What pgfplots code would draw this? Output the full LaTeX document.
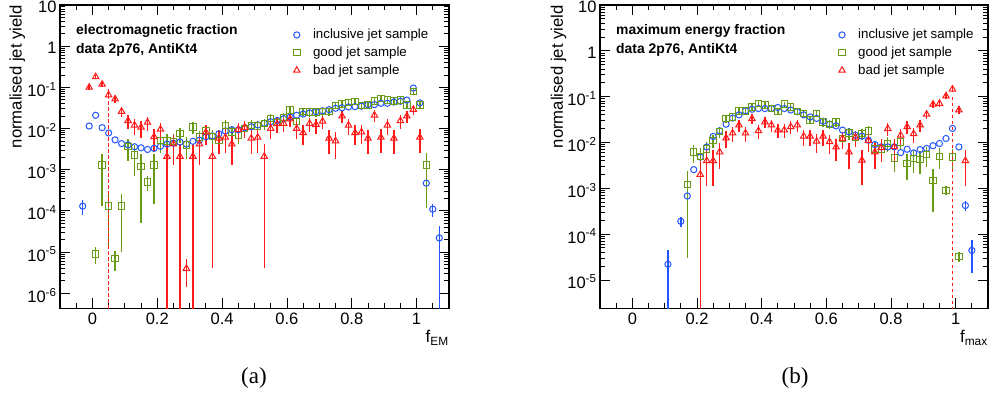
\documentclass[border=0pt]{standalone}
\usepackage{fontspec}
\setmainfont{Liberation Sans}
\newfontfamily\capfont{Liberation Serif}
\usepackage{pgfplots}
\pgfplotsset{compat=1.18}
\usepackage{pgfplotstable}

\definecolor{cblue}{RGB}{35,85,255}
\definecolor{cgreen}{RGB}{105,155,20}
\definecolor{cred}{RGB}{255,25,25}

% ---------------- left panel: electromagnetic fraction ----------------
\pgfplotstableread{
x y ep em
-0.03 1.3e-4 5e-5 5e-5
-0.01 0.0115 0 0
0.01 0.021 0 0
0.03 0.0105 0 0
0.05 0.0078 0 0
0.07 0.0053 0 0
0.09 0.0043 0 0
0.11 0.0040 0 0
0.13 0.0036 0 0
0.15 0.0034 0 0
0.17 0.0031 0 0
0.19 0.0033 0 0
0.21 0.0037 0 0
0.23 0.0042 0 0
0.25 0.0044 0 0
0.27 0.0047 0 0
0.29 0.0042 0 0
0.31 0.0049 0 0
0.33 0.0052 0 0
0.35 0.0063 0 0
0.37 0.0066 0 0
0.39 0.0074 0 0
0.41 0.0087 0 0
0.43 0.0094 0 0
0.45 0.0093 0 0
0.47 0.0105 0 0
0.49 0.011 0 0
0.51 0.0122 0 0
0.53 0.0134 0 0
0.55 0.0146 0 0
0.57 0.0158 0 0
0.59 0.0173 0 0
0.61 0.019 0 0
0.63 0.021 0 0
0.65 0.0225 0 0
0.67 0.024 0 0
0.69 0.0256 0 0
0.71 0.027 0 0
0.73 0.0287 0 0
0.75 0.031 0 0
0.77 0.032 0 0
0.79 0.0334 0 0
0.81 0.034 0 0
0.83 0.035 0 0
0.85 0.038 0 0
0.87 0.038 0 0
0.89 0.041 0 0
0.91 0.041 0 0
0.93 0.044 0 0
0.95 0.046 0 0
0.97 0.049 0 0
0.99 0.096 0 0
1.01 0.042 0 0
1.03 4.7e-4 8e-5 8e-5
1.05 1.1e-4 4e-5 4e-5
1.07 2.2e-5 2.1e-5 2.1998e-5
}\emincl

\pgfplotstableread{
x y ep em
0.01 9e-6 4e-6 4e-6
0.03 1.3e-3 1.17e-3 1.17e-3
0.05 1.3e-4 1.15e-4 1.15e-4
0.07 7e-6 3.5e-6 3.5e-6
0.09 1.3e-4 1.2e-4 1.2e-4
0.11 3.6e-3 2e-3 2e-3
0.13 2.3e-3 1.6e-3 1.6e-3
0.15 1.2e-3 1.15e-3 1.15e-3
0.17 5e-4 2e-4 2e-4
0.19 1.3e-3 1.15e-3 1.15e-3
0.21 5.1e-3 2.5e-3 2.5e-3
0.23 5e-3 2.4e-3 2.4e-3
0.25 4.8e-3 2.4e-3 2.4e-3
0.27 7.5e-3 3e-3 3e-3
0.29 4e-3 2.2e-3 2.2e-3
0.31 0.011 3.6e-3 3.6e-3
0.33 6.2e-3 2.7e-3 2.7e-3
0.35 8.9e-3 3.3e-3 3.3e-3
0.37 6.3e-3 2.75e-3 2.75e-3
0.39 5.2e-3 2.5e-3 2.5e-3
0.41 0.012 3.8e-3 3.8e-3
0.43 8.2e-3 3.1e-3 3.1e-3
0.45 7e-3 2.9e-3 2.9e-3
0.47 0.0101 3.5e-3 3.5e-3
0.49 0.012 3.8e-3 3.8e-3
0.51 0.0115 3.7e-3 3.7e-3
0.53 0.0133 4e-3 4e-3
0.55 0.0177 4.6e-3 4.6e-3
0.57 0.0138 4.1e-3 4.1e-3
0.59 0.0186 4.7e-3 4.7e-3
0.61 0.028 5.8e-3 5.8e-3
0.63 0.0146 4.2e-3 4.2e-3
0.65 0.026 5.6e-3 5.6e-3
0.67 0.025 5.5e-3 5.5e-3
0.69 0.025 5.5e-3 5.5e-3
0.71 0.026 5.6e-3 5.6e-3
0.73 0.026 5.6e-3 5.6e-3
0.75 0.036 6.6e-3 6.6e-3
0.77 0.039 6.8e-3 6.8e-3
0.79 0.043 7.2e-3 7.2e-3
0.81 0.045 7.3e-3 7.3e-3
0.83 0.036 6.6e-3 6.6e-3
0.85 0.037 6.7e-3 6.7e-3
0.87 0.047 7.5e-3 7.5e-3
0.89 0.054 8e-3 8e-3
0.91 0.049 7.7e-3 7.7e-3
0.93 0.047 7.5e-3 7.5e-3
0.95 0.049 7.7e-3 7.7e-3
0.97 0.037 6.7e-3 6.7e-3
0.99 0.080 9.8e-3 9.8e-3
1.01 0.037 6.7e-3 6.7e-3
1.03 1.3e-3 1.18e-3 1.18e-3
}\emgood

\pgfplotstableread{
x y ep em
-0.01 0.10 0.0143 0.0143
0.01 0.18 0.0192 0.0192
0.03 0.118 0.0156 0.0156
0.05 0.065 0.0115 0.0115
0.07 0.052 0.0103 0.0103
0.09 0.026 7.3e-3 7.3e-3
0.11 0.0155 5.6e-3 5.6e-3
0.13 0.012 5e-3 5e-3
0.15 0.0107 4.7e-3 4.7e-3
0.17 0.0141 5.4e-3 5.4e-3
0.19 0.0063 3.6e-3 3.6e-3
0.21 0.0096 4.4e-3 4.4e-3
0.23 0.0021 0.0021 0.0020998
0.25 0.0042 2.9e-3 2.9e-3
0.27 0.0021 0.0021 0.0020998
0.29 4e-6 2.6e-6 2.6e-6
0.31 0.0021 0.0021 0.0020998
0.33 0.0042 2.9e-3 2.9e-3
0.35 0.0081 4.1e-3 4.1e-3
0.37 0.0021 0.0021 0.002096
0.39 0.0058 3.45e-3 3.45e-3
0.41 0.0061 3.5e-3 3.5e-3
0.43 0.0042 2.9e-3 2.9e-3
0.45 0.0095 4.4e-3 4.4e-3
0.47 0.0106 4.7e-3 4.7e-3
0.49 0.0058 3.45e-3 3.45e-3
0.51 0.0061 3.5e-3 3.5e-3
0.53 0.0021 0.0021 0.002096
0.55 0.010 4.5e-3 4.5e-3
0.57 0.013 5.2e-3 5.2e-3
0.59 0.0133 5.2e-3 5.2e-3
0.61 0.017 5.9e-3 5.9e-3
0.63 0.010 4.5e-3 4.5e-3
0.65 0.0079 4e-3 4e-3
0.67 0.0133 5.2e-3 5.2e-3
0.69 0.0125 5e-3 5e-3
0.71 0.015 5.5e-3 5.5e-3
0.73 0.0058 3.45e-3 3.45e-3
0.75 0.005 3.2e-3 3.2e-3
0.77 0.020 6.4e-3 6.4e-3
0.79 0.012 5e-3 5e-3
0.81 0.0079 4e-3 4e-3
0.83 0.0082 4.1e-3 4.1e-3
0.85 0.0058 3.45e-3 3.45e-3
0.87 0.021 6.6e-3 6.6e-3
0.89 0.0061 3.5e-3 3.5e-3
0.91 0.012 5e-3 5e-3
0.93 0.0058 3.45e-3 3.45e-3
0.95 0.0155 5.6e-3 5.6e-3
0.97 0.020 6.4e-3 6.4e-3
0.99 0.029 7.7e-3 7.7e-3
1.01 0.0061 3.5e-3 3.5e-3
}\embad

% ---------------- right panel: maximum energy fraction ----------------
\pgfplotstableread{
x y ep em
0.11 2.2e-5 2.2e-5 2.1998e-5
0.15 1.9e-4 5e-5 5e-5
0.17 6.8e-4 1e-4 1e-4
0.19 2.55e-3 0 0
0.21 4.8e-3 0 0
0.23 8e-3 0 0
0.25 0.0135 0 0
0.27 0.018 0 0
0.29 0.025 0 0
0.31 0.034 0 0
0.33 0.040 0 0
0.35 0.049 0 0
0.37 0.053 0 0
0.39 0.055 0 0
0.41 0.055 0 0
0.43 0.055 0 0
0.45 0.058 0 0
0.47 0.055 0 0
0.49 0.051 0 0
0.51 0.047 0 0
0.53 0.040 0 0
0.55 0.036 0 0
0.57 0.0335 0 0
0.59 0.029 0 0
0.61 0.025 0 0
0.63 0.023 0 0
0.65 0.0186 0 0
0.67 0.017 0 0
0.69 0.0144 0 0
0.71 0.0137 0 0
0.73 0.0112 0 0
0.75 9e-3 0 0
0.77 8e-3 0 0
0.79 8e-3 0 0
0.81 8e-3 0 0
0.83 6e-3 0 0
0.85 7.1e-3 0 0
0.87 5.9e-3 0 0
0.89 7e-3 0 0
0.91 7.4e-3 0 0
0.93 8.5e-3 0 0
0.95 9.5e-3 0 0
0.97 0.0122 0 0
0.99 0.0203 0 0
1.01 8e-3 0 0
1.03 4.2e-4 1e-4 1e-4
1.05 4.4e-5 3e-5 3e-5
}\mxincl

\pgfplotstableread{
x y ep em
0.17 1.2e-3 1.17e-3 1.17e-3
0.19 6.2e-3 2.7e-3 2.7e-3
0.21 5e-3 2.4e-3 2.4e-3
0.23 7.2e-3 2.9e-3 2.9e-3
0.25 0.0112 3.7e-3 3.7e-3
0.27 0.0173 4.6e-3 4.6e-3
0.29 0.033 6.3e-3 6.3e-3
0.31 0.036 6.6e-3 6.6e-3
0.33 0.049 7.7e-3 7.7e-3
0.35 0.049 7.7e-3 7.7e-3
0.37 0.060 8.5e-3 8.5e-3
0.39 0.071 9.2e-3 9.2e-3
0.41 0.066 8.9e-3 8.9e-3
0.43 0.055 8.1e-3 8.1e-3
0.45 0.047 7.5e-3 7.5e-3
0.47 0.069 9.1e-3 9.1e-3
0.49 0.059 8.4e-3 8.4e-3
0.51 0.047 7.5e-3 7.5e-3
0.53 0.043 7.2e-3 7.2e-3
0.55 0.031 6.1e-3 6.1e-3
0.57 0.043 7.2e-3 7.2e-3
0.59 0.028 5.8e-3 5.8e-3
0.61 0.025 5.5e-3 5.5e-3
0.63 0.028 5.8e-3 5.8e-3
0.65 0.0122 3.8e-3 3.8e-3
0.67 0.016 4.4e-3 4.4e-3
0.69 0.013 3.9e-3 3.9e-3
0.71 0.0155 4.3e-3 4.3e-3
0.73 0.0177 4.6e-3 4.6e-3
0.75 7.2e-3 2.9e-3 2.9e-3
0.77 7.2e-3 2.9e-3 2.9e-3
0.79 9.5e-3 3.4e-3 3.4e-3
0.81 4.6e-3 2.3e-3 2.3e-3
0.83 0.0103 3.5e-3 3.5e-3
0.85 3.5e-3 2e-3 2e-3
0.87 4.5e-3 2.3e-3 2.3e-3
0.89 4.3e-3 2.3e-3 2.3e-3
0.91 5.5e-3 2.6e-3 2.6e-3
0.93 1.5e-3 1.2e-3 1.2e-3
0.95 5e-3 2.4e-3 2.4e-3
0.97 9e-4 2e-4 2e-4
0.99 4.8e-3 2.4e-3 2.4e-3
1.01 3.2e-5 8e-6 8e-6
}\mxgood

\pgfplotstableread{
x y ep em
0.21 2e-3 2e-3 1.9998e-3
0.23 4e-3 2.9e-3 2.9e-3
0.25 4e-3 2.9e-3 2.9e-3
0.27 6.2e-3 3.6e-3 3.6e-3
0.29 0.0125 5.1e-3 5.1e-3
0.31 0.016 5.7e-3 5.7e-3
0.33 0.024 7e-3 7e-3
0.35 0.016 5.7e-3 5.7e-3
0.37 0.033 8.2e-3 8.2e-3
0.39 0.018 6.1e-3 6.1e-3
0.41 0.028 7.6e-3 7.6e-3
0.43 0.024 7e-3 7e-3
0.45 0.0186 6.2e-3 6.2e-3
0.47 0.0186 6.2e-3 6.2e-3
0.49 0.022 6.7e-3 6.7e-3
0.51 0.024 7e-3 7e-3
0.53 0.0137 5.3e-3 5.3e-3
0.55 0.0137 5.3e-3 5.3e-3
0.57 0.0106 4.7e-3 4.7e-3
0.59 0.0137 5.3e-3 5.3e-3
0.61 0.0103 4.6e-3 4.6e-3
0.63 0.0079 4e-3 4e-3
0.65 0.0122 5e-3 5e-3
0.67 0.0062 3.6e-3 3.6e-3
0.69 0.013 5.2e-3 5.2e-3
0.71 0.0041 2.9e-3 2.9e-3
0.73 0.011 4.7e-3 4.7e-3
0.75 0.0062 3.6e-3 3.6e-3
0.77 0.0077 4e-3 4e-3
0.79 0.020 6.4e-3 6.4e-3
0.81 0.008 4e-3 4e-3
0.83 0.0144 5.4e-3 5.4e-3
0.85 0.022 6.7e-3 6.7e-3
0.87 0.0155 5.6e-3 5.6e-3
0.89 0.024 7e-3 7e-3
0.91 0.041 9.2e-3 9.2e-3
0.93 0.068 0.0118 0.0118
0.95 0.071 0.0121 0.0121
0.97 0.103 0.0145 0.0145
0.99 0.145 0.0172 0.0172
1.01 0.051 0.0102 0.0102
1.03 0.004 2.9e-3 2.9e-3
}\mxbad

\pgfplotsset{
  rootaxis/.style={
    scale only axis, width=389pt, height=303.3pt,
    xmin=-0.1, xmax=1.1, ymax=10,
    xtick={0,0.2,0.4,0.6,0.8,1}, xticklabels={0,0.2,0.4,0.6,0.8,1},
    minor xtick={-0.05,0.05,0.1,0.15,0.25,0.3,0.35,0.45,0.5,0.55,0.65,0.7,0.75,0.85,0.9,0.95,1.05},
    major tick length=10pt, minor tick length=5pt,
    every tick/.style={black, line width=0.8pt},
    axis line style={line width=1.1pt},
    tick label style={font=\fontsize{16.5}{16.5}\selectfont},
    xticklabel style={yshift=-1pt},
    yticklabel style={yshift=-2pt},
    ylabel={normalised jet yield},
    every axis y label/.style={rotate=90, anchor=east, inner sep=0pt, font=\fontsize{16.7}{16.7}\selectfont},
    every axis x label/.style={at={(axis description cs:1,0)}, anchor=north east, inner sep=0pt, yshift=-22pt, font=\fontsize{17}{17}\selectfont},
    legend style={draw=none, fill=none, anchor=north west, font=\fontsize{13.3}{13.3}\selectfont,
      cells={anchor=west}, row sep=2.6pt, inner sep=0pt,
      /tikz/every odd column/.append style={column sep=11pt}},
  },
  incl/.style={only marks, mark=o, mark size=3.1pt, color=cblue, mark options={line width=1pt, solid},
    error bars/.cd, y dir=both, y explicit, error mark=none, error bar style={line width=1.4pt, cblue}},
  good/.style={only marks, mark=square, mark size=3.2pt, color=cgreen, mark options={line width=1pt, solid},
    error bars/.cd, y dir=both, y explicit, error mark=none, error bar style={line width=1.4pt, cgreen}},
  bad/.style={only marks, mark=triangle, mark size=3.7pt, color=cred, mark options={line width=1pt, solid},
    error bars/.cd, y dir=both, y explicit, error mark=none, error bar style={line width=1.4pt, cred}},
}

\begin{document}
\begin{tikzpicture}
\useasboundingbox (0,0) rectangle (989pt,397pt);

\begin{axis}[rootaxis, ymode=log, at={(60pt,88.7pt)}, anchor=south west,
  ymin=4.3e-7,
  ytick={1e-6,1e-5,1e-4,1e-3,1e-2,1e-1,1,10},
  yticklabels={10\textsuperscript{-6},10\textsuperscript{-5},10\textsuperscript{-4},10\textsuperscript{-3},10\textsuperscript{-2},10\textsuperscript{-1},1,10},
  every axis y label/.append style={at={(axis description cs:-0.11,1)}},
  xlabel={f\textsubscript{EM}},
  legend style={at={(axis description cs:0.6,0.927)}},
]
\addplot+[incl] table[x=x,y=y,y error plus=ep,y error minus=em] {\emincl};
\addlegendentry{inclusive jet sample}
\addplot+[good] table[x=x,y=y,y error plus=ep,y error minus=em] {\emgood};
\addlegendentry{good jet sample}
\addplot+[bad] table[x=x,y=y,y error plus=ep,y error minus=em] {\embad};
\addlegendentry{bad jet sample}
\addplot[cred, line width=1.6pt, dash pattern=on 3.5pt off 2.5pt, forget plot] coordinates {(0.05,0.09) (0.05,1e-8)};
\end{axis}

\begin{axis}[rootaxis, ymode=log, at={(600pt,88.7pt)}, anchor=south west, width=388pt,
  ymin=2.4e-6,
  ytick={1e-5,1e-4,1e-3,1e-2,1e-1,1,10},
  yticklabels={10\textsuperscript{-5},10\textsuperscript{-4},10\textsuperscript{-3},10\textsuperscript{-2},10\textsuperscript{-1},1,10},
  every axis y label/.append style={at={(axis description cs:-0.107,1)}},
  xlabel={f\textsubscript{max}},
  legend style={at={(axis description cs:0.615,0.927)}},
]
\addplot+[incl] table[x=x,y=y,y error plus=ep,y error minus=em] {\mxincl};
\addlegendentry{inclusive jet sample}
\addplot+[good] table[x=x,y=y,y error plus=ep,y error minus=em] {\mxgood};
\addlegendentry{good jet sample}
\addplot+[bad] table[x=x,y=y,y error plus=ep,y error minus=em] {\mxbad};
\addlegendentry{bad jet sample}
\addplot[cred, line width=1.6pt, dash pattern=on 3.5pt off 2.5pt, forget plot] coordinates {(0.99,0.1) (0.99,1e-8)};
\end{axis}

\node[anchor=base west, inner sep=0pt, font=\bfseries\fontsize{13.9}{13.9}\selectfont] at (76pt,362.5pt) {electromagnetic fraction};
\node[anchor=base west, inner sep=0pt, font=\bfseries\fontsize{13.9}{13.9}\selectfont] at (76pt,343.7pt) {data 2p76, AntiKt4};
\node[anchor=base west, inner sep=0pt, font=\bfseries\fontsize{13.9}{13.9}\selectfont] at (616pt,362.5pt) {maximum energy fraction};
\node[anchor=base west, inner sep=0pt, font=\bfseries\fontsize{13.9}{13.9}\selectfont] at (616pt,343.7pt) {data 2p76, AntiKt4};

\node[anchor=base, inner sep=0pt, font=\capfont\fontsize{23}{23}\selectfont] at (254pt,14pt) {(a)};
\node[anchor=base, inner sep=0pt, font=\capfont\fontsize{23}{23}\selectfont] at (795pt,14pt) {(b)};
\end{tikzpicture}
\end{document}
